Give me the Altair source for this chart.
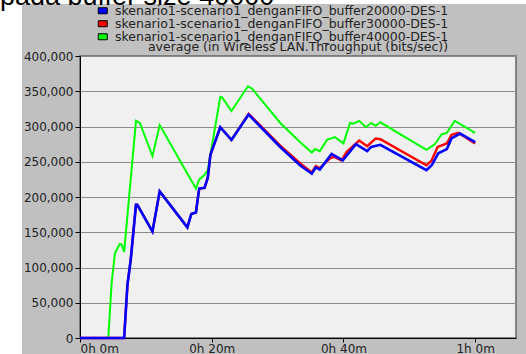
import altair as alt
import pandas as pd

series_names = [
    "skenario1-scenario1_denganFIFO_buffer20000-DES-1",
    "skenario1-scenario1_denganFIFO_buffer30000-DES-1",
    "skenario1-scenario1_denganFIFO_buffer40000-DES-1",
]
series_colors = ["#0000ff", "#ff0000", "#00ff00"]

# time in minutes, throughput in bits/sec
blue_t = [0, 6.7, 7.2, 7.7, 8.5, 8.7, 11.0, 12.1, 16.3, 16.9, 17.6, 18.1, 18.9, 19.4, 19.8,
          21.3, 23.0, 25.6, 30.4, 33.4, 35.2, 35.8, 36.4, 38.2, 39.9, 41.9, 43.6, 44.2, 45.6,
          52.6, 53.4, 54.4, 55.7, 56.4, 57.7, 60.0]
blue_v = [0, 0, 75000, 111000, 189000, 189000, 151000, 208000, 157000, 176000, 178000, 212000,
          213000, 227000, 260000, 299000, 281000, 317000, 271000, 245000, 233000, 242000, 239000,
          261000, 252000, 275000, 265000, 271000, 274000, 238000, 245000, 262000, 268000, 283000,
          290000, 278000]

red_t = [0, 6.7, 7.2, 7.7, 8.5, 8.7, 11.0, 12.1, 16.3, 16.9, 17.6, 18.1, 18.9, 19.4, 19.8,
         21.3, 23.0, 25.6, 30.4, 33.4, 35.2, 35.8, 36.4, 38.0, 38.6, 39.7, 40.5, 42.4, 43.6,
         44.9, 45.6, 52.6, 53.4, 54.3, 55.7, 56.4, 57.4, 60.0]
red_v = [0, 0, 75000, 111000, 189000, 189000, 151000, 208000, 157000, 176000, 178000, 212000,
         213000, 227000, 260000, 299000, 281000, 318000, 273000, 248000, 235000, 244000, 241000,
         255000, 257000, 252000, 264000, 280000, 272000, 283000, 282000, 245000, 252000, 271000,
         276000, 288000, 291000, 276000]

green_t = [0, 4.3, 4.8, 5.3, 6.0, 6.3, 6.7, 8.5, 9.1, 11.0, 12.1, 17.6, 18.1, 18.9, 19.4,
           21.3, 21.6, 23.0, 25.5, 26.1, 30.4, 33.4, 35.2, 35.7, 36.4, 37.5, 38.7, 40.0, 41.0,
           41.5, 42.4, 43.4, 44.2, 44.9, 45.6, 52.6, 53.9, 54.9, 55.7, 56.9, 60.0]
green_v = [0, 0, 78000, 120000, 133000, 133000, 122000, 308000, 305000, 258000, 302000, 212000,
           225000, 231000, 238000, 342000, 341000, 322000, 357000, 354000, 305000, 278000, 263000,
           268000, 265000, 281000, 285000, 276000, 305000, 304000, 308000, 299000, 305000, 301000,
           306000, 267000, 275000, 289000, 291000, 308000, 291000]

x_tick_values = [0, 20, 40, 60]
y_tick_values = [0, 50000, 100000, 150000, 200000, 250000, 300000, 350000, 400000]
chart_title = "average (in Wireless LAN.Throughput (bits/sec))"
top_caption = "pada buffer size 40000"

rows = []
for name, ts, vs in zip(series_names, [blue_t, red_t, green_t], [blue_v, red_v, green_v]):
    for t, v in zip(ts, vs):
        rows.append({"series": name, "t": t, "v": v})
df = pd.DataFrame(rows)

FONT = "DejaVu Sans"
PANEL = "#c0c0c0"

x_enc = alt.X(
    "t:Q",
    scale=alt.Scale(domain=[0, 66.2], nice=False, zero=False),
    axis=alt.Axis(
        values=x_tick_values,
        labelExpr="datum.value >= 60 ? '1h ' + (datum.value - 60) + 'm' : '0h ' + datum.value + 'm'",
        title=None, grid=False, tickSize=4, tickColor="black", domainColor="black",
        labelFont=FONT, labelFontSize=12, labelColor="#222222", labelPadding=1,
    ),
)
y_enc = alt.Y(
    "v:Q",
    scale=alt.Scale(domain=[0, 400000], nice=False),
    axis=alt.Axis(
        values=y_tick_values, format=",.0f", title=None, grid=True, gridColor="#8c8c8c",
        tickSize=5, tickColor="black", domainColor="black",
        labelFont=FONT, labelFontSize=12, labelColor="#222222", labelPadding=2,
    ),
)

base = alt.Chart(df)

def line_layer(name, color, width):
    return base.transform_filter(alt.datum.series == name).mark_line(
        color=color, strokeWidth=width
    ).encode(x=x_enc, y=y_enc)

green_line = line_layer(series_names[2], series_colors[2], 2)
red_line = line_layer(series_names[1], series_colors[1], 2.4)
blue_line = line_layer(series_names[0], series_colors[0], 2.6)

legend_df = pd.DataFrame({"series": series_names, "t": [0, 0, 0], "v": [0, 0, 0]})
legend_layer = alt.Chart(legend_df).mark_square(size=0, filled=True).encode(
    x=x_enc, y=y_enc,
    fill=alt.Fill(
        "series:N",
        scale=alt.Scale(domain=series_names, range=series_colors),
        legend=alt.Legend(
            orient="none", legendX=16.5, legendY=-51.5, title=None,
            symbolType="M-1,-0.667H1V0.667H-1Z", symbolSize=81,
            symbolStrokeColor="black", symbolStrokeWidth=1, symbolOpacity=1,
            labelFont=FONT, labelFontSize=12.5, labelColor="#222222", labelOffset=6,
            rowPadding=-0.8, padding=0, symbolOffset=0, labelLimit=500,
        ),
    ),
)

one = pd.DataFrame({"a": [0]})
white_left = alt.Chart(one).mark_rect(color="white").encode(
    x=alt.value(-80), x2=alt.value(-58), y=alt.value(-56), y2=alt.value(298)
)
white_top = alt.Chart(one).mark_rule(color="white", strokeWidth=8).encode(
    x=alt.value(-80), x2=alt.value(446), y=alt.value(-56)
)
caption = alt.Chart(one).mark_text(
    align="left", baseline="alphabetic", font="Liberation Sans", fontSize=27, color="black"
).encode(x=alt.value(-80), y=alt.value(-51), text=alt.value(top_caption))
title_text = alt.Chart(one).mark_text(
    align="center", baseline="middle", font=FONT, fontSize=12.5, color="#222222"
).encode(x=alt.value(218), y=alt.value(-9), text=alt.value(chart_title))

chart = alt.layer(
    white_left, white_top, caption, title_text,
    green_line, red_line, blue_line, legend_layer
).properties(
    width=436, height=282,
    padding={"left": 80, "top": 56, "right": 10, "bottom": 16},
    autosize=alt.AutoSizeParams(type="none"),
).configure(background=PANEL).configure_view(
    fill="#f0f0f0", stroke="#666666", strokeWidth=1.5
)

chart.save("out.html", embed_options={"renderer": "svg", "actions": False})
